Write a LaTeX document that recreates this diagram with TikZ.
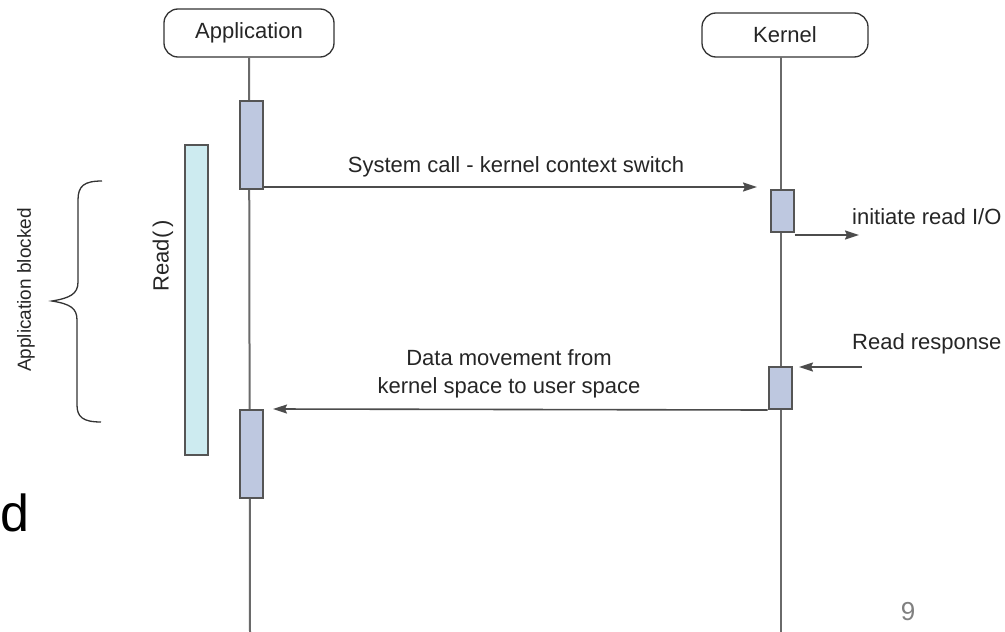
\documentclass[tikz,border=0pt]{standalone}
\usepackage{fontspec}
\setmainfont{Liberation Sans}
\usetikzlibrary{arrows.meta}
\definecolor{actfill}{HTML}{BEC8E0}
\definecolor{readfill}{HTML}{CDEBF0}
\definecolor{edge}{HTML}{555555}
\definecolor{lifeline}{HTML}{6A6A6A}
\begin{document}
\begin{tikzpicture}[x=1pt,y=-1pt,
  lbl/.style={font=\fontsize{22}{26}\selectfont, text=black!85, inner sep=0pt},
  actor/.style={draw=black!80, line width=1.3pt, rounded corners=14pt, fill=white,
    minimum height=48pt, inner sep=0pt, font=\fontsize{22}{26}\selectfont, text=black!85},
  actbox/.style={draw=edge, line width=2pt, fill=actfill, minimum width=23pt, inner sep=0pt},
  readbar/.style={draw=edge, line width=2pt, fill=readfill, minimum width=23pt, inner sep=0pt},
  life/.style={draw=lifeline, line width=2pt},
  msg/.style={draw=black!70, line width=1.6pt, -{Stealth[length=14pt,width=9pt,inset=2pt]}}
]
\fill[white] (0,0) rectangle (1005,632);
\useasboundingbox (0,0) rectangle (1005,632);

% actors
\node[actor, minimum width=170pt] (app) at (249,33) {Application};
\node[actor, minimum width=166pt, minimum height=44pt] (ker) at (785,35) {Kernel};

% lifelines
\coordinate (appbot) at (250,632);
\coordinate (kertop) at (781,57);
\coordinate (kerbot) at (781,632);
\draw[life] (app.south) -- (appbot);
\draw[life] (kertop) -- (kerbot);

% read bar
\node[readbar, minimum height=310pt] (readb) at (196,300) {};
\node[lbl, rotate=90] (readt) at (163,256) {Read(\,)};

% activations
\node[actbox, minimum height=88pt] (a1) at (251,145) {};
\node[actbox, minimum height=88pt] (a2) at (251,454) {};
\node[actbox, minimum height=42pt] (k1) at (782,211) {};
\node[actbox, minimum height=42pt] (k2) at (780,388) {};

% system call
\coordinate (sc) at (757,187);
\draw[msg] (a1.south east |- sc) -- (sc);
\node[lbl] (sclbl) at (516,167) {System call - kernel context switch};

% initiate read I/O
\coordinate (ioend) at (859,235);
\draw[msg] (k1.south east |- ioend) -- (ioend);
\node[lbl, anchor=west] (iolbl) at (852,217) {initiate read I/O};

% read response
\coordinate (rrstart) at (862,367);
\coordinate (rrend) at (799,367);
\draw[msg] (rrstart) -- (rrend);
\node[lbl, anchor=west] (rrlbl) at (852,344) {Read response};

% data movement
\coordinate (dmend) at (273,409);
\draw[msg] (k2.south west) -- (dmend);
\node[lbl, align=center] (dmlbl) at (509,374) {Data movement from\\[2pt]kernel space to user space};

% brace
\draw[black!80, line width=1.3pt]
  (102,181) .. controls (84,181) and (78,186) .. (78,200) -- (78,282)
  .. controls (78,294) and (70,298) .. (52,301)
  .. controls (70,304) and (77,308) .. (77,320) -- (77,405)
  .. controls (77,417) and (83,422) .. (101,422);
\node[lbl, rotate=90, font=\fontsize{19}{22}\selectfont] (blk) at (26,290) {Application blocked};

% stray slide text
\node[inner sep=0pt, anchor=west, font=\fontsize{52}{58}\selectfont] (dd) at (0,513) {d};
\node[inner sep=0pt, font=\fontsize{26}{30}\selectfont, text=black!50] (pg) at (908,612) {9};
\end{tikzpicture}
\end{document}
